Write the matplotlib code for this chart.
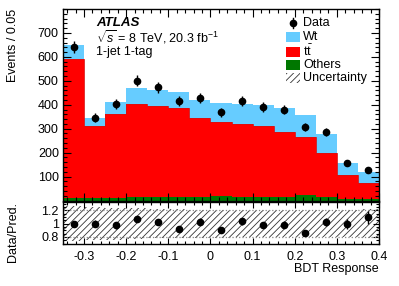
import numpy as np
import matplotlib
matplotlib.use("Agg")
import matplotlib.pyplot as plt
from matplotlib.patches import Rectangle
from matplotlib.ticker import MultipleLocator

plt.rcParams["font.family"] = ["Liberation Sans", "DejaVu Sans"]
plt.rcParams["mathtext.fontset"] = "custom"
plt.rcParams["mathtext.rm"] = "Liberation Sans"
plt.rcParams["mathtext.it"] = "Liberation Sans:italic"
plt.rcParams["hatch.linewidth"] = 0.6

FS = 9.0

# BDT response bins (width 0.05)
bin_edges = [-0.35, -0.30, -0.25, -0.20, -0.15, -0.10, -0.05, 0.00,
             0.05, 0.10, 0.15, 0.20, 0.25, 0.30, 0.35, 0.40]
others = [12, 10, 10, 14, 14, 14, 16, 18, 14, 14, 16, 24, 14, 6, 5]
ttbar = [581, 300, 353, 388, 382, 371, 327, 311, 304, 298, 271, 241, 184, 100, 70]
wt = [56, 35, 50, 67, 67, 70, 75, 78, 84, 87, 98, 92, 81, 50, 42]
data = [642, 345, 402, 501, 473, 416, 430, 368, 416, 391, 379, 307, 287, 156, 128]
data_err = [25, 19, 20, 22, 22, 20, 21, 19, 20, 20, 19, 18, 17, 12, 11]
ratio_unc = [0.26, 0.25, 0.24, 0.23, 0.22, 0.22, 0.21, 0.21,
             0.20, 0.20, 0.20, 0.20, 0.20, 0.20, 0.22]

edges = np.array(bin_edges)
centers = 0.5 * (edges[:-1] + edges[1:])
oth = np.array(others, float)
tt = np.array(ttbar, float)
w = np.array(wt, float)
total = oth + tt + w
d = np.array(data, float)
derr = np.array(data_err, float)
unc = np.array(ratio_unc)

W, H = 399, 286
fig = plt.figure(figsize=(W / 100, H / 100), dpi=100)
ax = fig.add_axes([63 / W, 1 - 200.5 / H, 316 / W, 191.5 / H])
rax = fig.add_axes([63 / W, 1 - 244.3 / H, 316 / W, 42 / H])

# stacked histogram
ax.stairs(total, edges, baseline=0, fill=True, color="#66CCFF", lw=0)
ax.stairs(oth + tt, edges, baseline=0, fill=True, color="#FF0000", lw=0)
ax.stairs(oth + tt, edges, baseline=None, color="#D81010", lw=0.6)
ax.stairs(oth, edges, baseline=0, fill=True, color="#007700", lw=0)
ax.errorbar(centers, d, yerr=derr, fmt="o", color="black", ms=4.5, lw=1, capsize=0)

ax.set_xlim(-0.35, 0.4)
ax.set_ylim(0, 800)
ax.set_yticks([100, 200, 300, 400, 500, 600, 700])
ax.yaxis.set_minor_locator(MultipleLocator(20))
ax.xaxis.set_major_locator(MultipleLocator(0.1))
ax.xaxis.set_minor_locator(MultipleLocator(0.02))
ax.tick_params(labelbottom=False)

# ratio panel
ratio = d / total
rerr = derr / total
rax.stairs(1 + unc, edges, baseline=1 - unc, fill=True, facecolor="none",
           edgecolor="#333333", hatch="/////", lw=0)
rax.axhline(1.2, color="#888888", ls=":", lw=0.9)
rax.axhline(0.8, color="#888888", ls=":", lw=0.9)
rax.errorbar(centers, ratio, yerr=rerr, fmt="o", color="black", ms=4.5, lw=1, capsize=0)
rax.set_xlim(-0.35, 0.4)
rax.set_ylim(0.69, 1.32)
rax.set_yticks([0.8, 1.0, 1.2])
rax.set_yticklabels(["0.8", "1", "1.2"])
rax.yaxis.set_minor_locator(MultipleLocator(0.05))
rax.xaxis.set_minor_locator(MultipleLocator(0.02))
rax.set_xticks([-0.3, -0.2, -0.1, 0, 0.1, 0.2, 0.3, 0.4])
rax.set_xticklabels(["-0.3", "-0.2", "-0.1", "0", "0.1", "0.2", "0.3", "0.4"])

for a in (ax, rax):
    a.tick_params(which="both", direction="in", top=True, right=True,
                  labelsize=FS, width=0.8, pad=3)
    a.tick_params(which="major", length=6)
    a.tick_params(which="minor", length=3)
    for s in a.spines.values():
        s.set_linewidth(1.0)
rax.tick_params(which="major", length=4)
rax.tick_params(which="minor", length=2)
rax.tick_params(axis="x", pad=5)

fig.text(13 / W, 1 - 9 / H, "Events / 0.05", rotation=90, ha="center", va="top", fontsize=FS)
fig.text(13 / W, 1 - 202 / H, "Data/Pred.", rotation=90, ha="center", va="top", fontsize=FS)
fig.text(379 / W, 1 - 269 / H, "BDT Response", ha="right", va="center", fontsize=FS)

# labels
fig.text(96 / W, 1 - 23 / H, "ATLAS", fontsize=9.6, weight="bold", style="italic", va="center")
fig.text(96 / W, 1 - 37.5 / H, r"$\sqrt{s}$ = 8 TeV, 20.3 fb$^{-1}$", fontsize=FS, va="center")
fig.text(96 / W, 1 - 52 / H, "1-jet 1-tag", fontsize=FS, va="center")

# legend
leg_y = [23.3, 37.3, 51.7, 65, 78.3]
fig.text(303 / W, 1 - leg_y[0] / H, "Data", fontsize=FS, va="center")
fig.add_artist(plt.Line2D([293 / W], [1 - leg_y[0] / H], marker="o", color="black", ms=4.5))
fig.add_artist(plt.Line2D([293 / W, 293 / W], [1 - (leg_y[0] - 5) / H, 1 - (leg_y[0] + 5) / H],
                          color="black", lw=1))
entries = [("Wt", "#66CCFF", None), (r"t$\bar{\rm t}$", "#FF0000", None),
           ("Others", "#007700", None), ("Uncertainty", "none", "/////")]
for (lab, col, hat), yy in zip(entries, leg_y[1:]):
    fig.add_artist(Rectangle((286 / W, 1 - (yy + 5) / H), 14 / W, 10 / H,
                             facecolor=col, edgecolor="#333333" if hat else "none",
                             hatch=hat, lw=0, transform=fig.transFigure))
    fig.text(303 / W, 1 - yy / H, lab, fontsize=FS, va="center")

fig.savefig("out.png", dpi=100)
